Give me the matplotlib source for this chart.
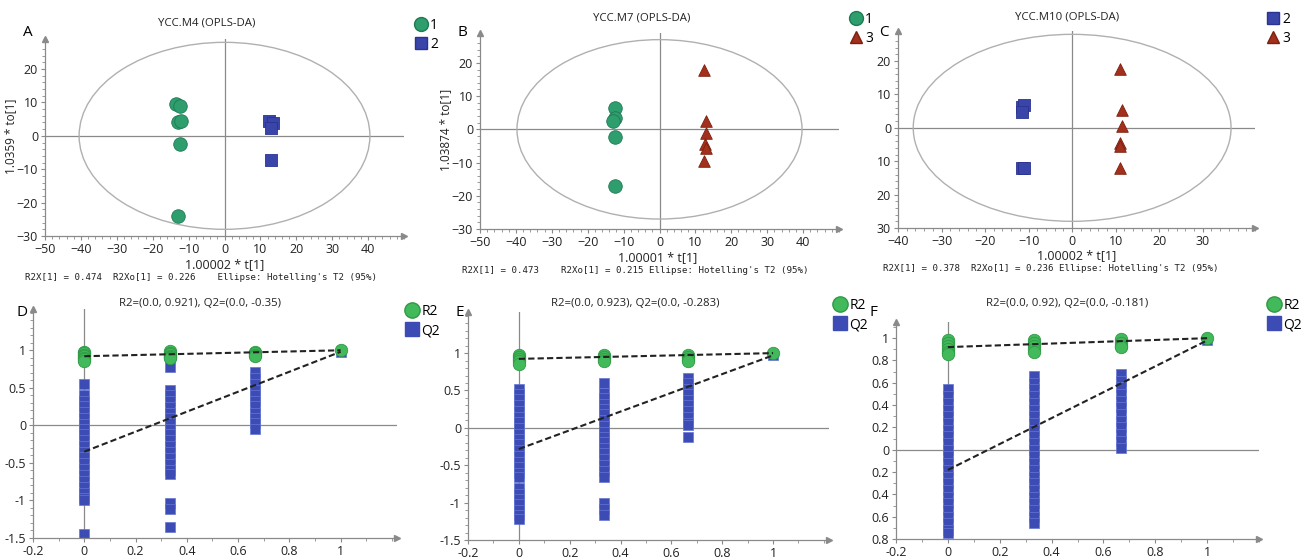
import numpy as np
import matplotlib
matplotlib.use("Agg")
import matplotlib.pyplot as plt
from matplotlib.patches import Ellipse
from matplotlib.lines import Line2D
from matplotlib.ticker import MultipleLocator, AutoMinorLocator, FuncFormatter

plt.rcParams['font.family'] = ['Open Sans', 'DejaVu Sans']

# ---- score plots (A, B, C) ----
a_g1_x = [-13.5, -12.5, -13.0, -12.0, -12.5, -13.0]
a_g1_y = [9.5, 9.0, 4.0, 4.5, -2.5, -24.0]
a_g2_x = [12.5, 13.5, 13.0, 13.0]
a_g2_y = [4.5, 3.8, 2.2, -7.3]

b_g1_x = [-12.5, -12.5, -13.0, -12.5, -12.5]
b_g1_y = [6.5, 3.5, 2.5, -2.2, -17.0]
b_g3_x = [12.5, 13.0, 13.0, 12.8, 13.0, 12.5]
b_g3_y = [18.0, 2.5, -1.0, -4.5, -5.5, -9.5]

c_g2_x = [-11.5, -11.0, -11.5, -11.5, -11.0]
c_g2_y = [6.2, 6.7, 4.8, -12.0, -12.0]
c_g3_x = [11.0, 11.5, 11.5, 11.0, 11.0, 11.0]
c_g3_y = [17.5, 5.3, 0.5, -4.5, -5.5, -12.0]

ellipse_a = [40.5, 39.7, 36.5]
ellipse_b = [28.0, 27.0, 28.0]

score_titles = ["YCC.M4 (OPLS-DA)", "YCC.M7 (OPLS-DA)", "YCC.M10 (OPLS-DA)"]
score_xlabels = ["1.00002 * t[1]", "1.00001 * t[1]", "1.00002 * t[1]"]
score_ylabels = ["1.0359 * to[1]", "1.03874 * to[1]", ""]
score_notes = ["R2X[1] = 0.474  R2Xo[1] = 0.226    Ellipse: Hotelling's T2 (95%)",
               "R2X[1] = 0.473    R2Xo[1] = 0.215 Ellipse: Hotelling's T2 (95%)",
               "R2X[1] = 0.378  R2Xo[1] = 0.236 Ellipse: Hotelling's T2 (95%)"]

# ---- permutation plots (D, E, F) ----
perm_x = [0.0, 0.333, 0.667, 1.0]

d_r2 = [[0.98, 0.96, 0.94, 0.92, 0.90, 0.88, 0.86],
        [0.99, 0.97, 0.95, 0.93, 0.91, 0.90],
        [0.98, 0.96, 0.94, 0.93],
        [1.0]]
d_q2 = [[0.55, 0.40, 0.33, 0.26, 0.18, 0.10, 0.02, -0.05, -0.12, -0.20, -0.28, -0.35,
         -0.42, -0.50, -0.58, -0.66, -0.74, -0.82, -0.90, -0.97, -1.00, -1.45],
        [0.78, 0.47, 0.40, 0.32, 0.25, 0.17, 0.10, 0.03, -0.05, -0.12, -0.20, -0.28,
         -0.36, -0.44, -0.52, -0.60, -0.65, -1.03, -1.12, -1.35],
        [0.71, 0.63, 0.55, 0.47, 0.40, 0.33, 0.26, 0.16, 0.10, 0.03, -0.05],
        [0.98]]
e_r2 = [[0.98, 0.95, 0.92, 0.89, 0.86],
        [0.98, 0.95, 0.92, 0.89],
        [0.98, 0.95, 0.92, 0.89],
        [1.0]]
e_q2 = [[0.52, 0.45, 0.38, 0.30, 0.22, 0.15, 0.08, 0.00, -0.08, -0.15, -0.22, -0.30,
         -0.38, -0.45, -0.52, -0.60, -0.66, -0.80, -0.88, -0.95, -1.02, -1.10, -1.16, -1.22],
        [0.60, 0.47, 0.40, 0.32, 0.25, 0.18, 0.10, 0.03, -0.05, -0.12, -0.19, -0.27,
         -0.34, -0.42, -0.50, -0.58, -0.66, -1.00, -1.08, -1.16],
        [0.67, 0.60, 0.52, 0.45, 0.37, 0.30, 0.22, 0.15, 0.07, 0.04, -0.12],
        [0.97]]
f_r2 = [[0.98, 0.96, 0.93, 0.90, 0.88, 0.86],
        [0.98, 0.96, 0.93, 0.90, 0.88],
        [0.99, 0.96, 0.93, 0.92],
        [1.0]]
f_q2 = [[0.54, 0.48, 0.42, 0.36, 0.30, 0.24, 0.18, 0.12, 0.06, 0.0, -0.06, -0.12,
         -0.18, -0.24, -0.30, -0.36, -0.42, -0.48, -0.54, -0.60, -0.66, -0.72, -0.75],
        [0.66, 0.60, 0.54, 0.48, 0.42, 0.36, 0.30, 0.24, 0.18, 0.12, 0.06, 0.0,
         -0.06, -0.12, -0.18, -0.24, -0.30, -0.36, -0.42, -0.48, -0.54, -0.60, -0.66],
        [0.68, 0.62, 0.56, 0.50, 0.44, 0.38, 0.32, 0.26, 0.20, 0.14, 0.08, 0.02],
        [0.98]]
r2_int = [0.921, 0.923, 0.92]
q2_int = [-0.35, -0.283, -0.181]

W, H = 1302, 560
GREEN, GREEN_E = '#2e9e6e', '#1f7a52'
BLUE, BLUE_E = '#3a45aa', '#2a3390'
RED, RED_E = '#a3301c', '#7a2010'
GREEN2, GREEN2_E = '#42b95a', '#2f9a45'
BLUE2, BLUE2_E = '#3c4cb4', '#6576d4'
AXC = '#8a8a8a'


def box(l, t, r, b):
    return [l / W, 1 - b / H, (r - l) / W, (b - t) / H]


def fx(x):
    return x / W


def fy(y):
    return 1 - y / H


def style_axes(ax):
    for s in ['top', 'right']:
        ax.spines[s].set_visible(False)
    for s in ['left', 'bottom']:
        ax.spines[s].set_color(AXC)
        ax.spines[s].set_linewidth(0.9)
    ax.tick_params(which='both', direction='out', color=AXC, labelsize=9,
                   labelcolor='#222222', pad=2)
    ax.tick_params(which='major', length=3)
    ax.tick_params(which='minor', length=2)
    ax.plot(1, 0, '>', color=AXC, ms=5, transform=ax.transAxes, clip_on=False)
    ax.plot(0, 1, '^', color=AXC, ms=5, transform=ax.transAxes, clip_on=False)
    ax.set_facecolor('none')


def add_legend(handles, left, top):
    fig.legend(handles=handles, loc='upper left',
               bbox_to_anchor=(fx(left), fy(top)),
               frameon=False, fontsize=10, handletextpad=0.3, labelspacing=0.3,
               handlelength=0.8, borderpad=0.0, borderaxespad=0.0)


fig = plt.figure(figsize=(W / 100, H / 100), dpi=100)

# ---- top row ----
score_boxes = [box(45, 39, 404, 236), box(480, 33, 839, 229), box(898, 31, 1255, 228)]
score_xlim = [(-50, 50), (-50, 50), (-40, 42)]
score_xticks = [range(-50, 41, 10), range(-50, 41, 10), range(-40, 31, 10)]
score_data = [
    [(a_g1_x, a_g1_y, 'o', GREEN, GREEN_E, '1'), (a_g2_x, a_g2_y, 's', BLUE, BLUE_E, '2')],
    [(b_g1_x, b_g1_y, 'o', GREEN, GREEN_E, '1'), (b_g3_x, b_g3_y, '^', RED, RED_E, '3')],
    [(c_g2_x, c_g2_y, 's', BLUE, BLUE_E, '2'), (c_g3_x, c_g3_y, '^', RED, RED_E, '3')],
]
letters_top = ['A', 'B', 'C']
letter_pos_top = [(28, 32), (462, 32), (884, 32)]
title_pos_top = [(207, 23), (642, 18), (1067, 17)]
legend_pos_top = [(415, 18), (850, 12), (1267, 12)]
xlabel_pos = [(225, 265), (658, 258), (1077, 256)]
note_pos = [(25, 277), (462, 270), (883, 268)]
ylabel_pos = [(11, 136), (446, 130)]
sizes = {'o': 95, 's': 70, '^': 70}

for i in range(3):
    ax = fig.add_axes(score_boxes[i])
    style_axes(ax)
    ax.set_xlim(*score_xlim[i])
    ax.set_ylim(-30, 29)
    ax.set_xticks(list(score_xticks[i]))
    ax.xaxis.set_minor_locator(AutoMinorLocator(5))
    ax.set_yticks([-30, -20, -10, 0, 10, 20])
    ax.yaxis.set_minor_locator(AutoMinorLocator(5))
    if i == 2:
        ax.yaxis.set_major_formatter(FuncFormatter(lambda v, p: '%d' % abs(v)))
    ax.axhline(0, color=AXC, lw=0.9, zorder=1)
    ax.axvline(0, color=AXC, lw=0.9, zorder=1)
    ax.add_patch(Ellipse((0, 0), 2 * ellipse_a[i], 2 * ellipse_b[i], fill=False,
                         edgecolor='#b0b0b0', lw=1.0, zorder=1))
    handles = []
    for xs, ys, mk, fc, ec, lab in score_data[i]:
        ax.scatter(xs, ys, marker=mk, s=sizes[mk], c=fc, edgecolors=ec,
                   linewidths=0.6, zorder=3)
        handles.append(Line2D([], [], marker=mk, ls='none', ms=10 if mk == 'o' else 8.5,
                              mfc=fc, mec=ec, label=lab))
    add_legend(handles, *legend_pos_top[i])
    fig.text(fx(letter_pos_top[i][0]), fy(letter_pos_top[i][1]), letters_top[i],
             fontsize=11, ha='center', va='center')
    fig.text(fx(title_pos_top[i][0]), fy(title_pos_top[i][1]), score_titles[i],
             fontsize=8.2, ha='center', va='center', color='#222222')
    fig.text(fx(xlabel_pos[i][0]), fy(xlabel_pos[i][1]), score_xlabels[i],
             fontsize=9, ha='center', va='center', color='#222222')
    fig.text(fx(note_pos[i][0]), fy(note_pos[i][1]), score_notes[i],
             fontsize=6.6, ha='left', va='center', family='DejaVu Sans Mono',
             color='#222222')
    if score_ylabels[i]:
        fig.text(fx(ylabel_pos[i][0]), fy(ylabel_pos[i][1]), score_ylabels[i],
                 fontsize=8.5, ha='center', va='center', rotation=90, color='#222222')

# ---- bottom row ----
perm_boxes = [box(33, 309, 397, 538), box(468, 312, 829, 540), box(896, 322, 1259, 539)]
perm_xlim = [(-0.2, 1.22), (-0.2, 1.22), (-0.2, 1.2)]
perm_ylim = [(-1.5, 1.55), (-1.5, 1.55), (-0.8, 1.145)]
perm_r2 = [d_r2, e_r2, f_r2]
perm_q2 = [d_q2, e_q2, f_q2]
letters_bot = ['D', 'E', 'F']
letter_pos_bot = [(22, 313), (460, 313), (873, 313)]
title_pos_bot = [(200, 303), (635, 303), (1067, 303)]
legend_pos_bot = [(406, 304), (834, 298), (1268, 298)]

for i in range(3):
    ax = fig.add_axes(perm_boxes[i])
    style_axes(ax)
    ax.set_xlim(*perm_xlim[i])
    ax.set_ylim(*perm_ylim[i])
    ax.set_xticks([-0.2, 0, 0.2, 0.4, 0.6, 0.8, 1])
    ax.xaxis.set_minor_locator(AutoMinorLocator(2))
    if i < 2:
        ax.set_yticks([-1.5, -1, -0.5, 0, 0.5, 1])
        ax.yaxis.set_minor_locator(AutoMinorLocator(5))
        ax.yaxis.set_major_formatter(FuncFormatter(lambda v, p: '%g' % v))
    else:
        ax.set_yticks([-0.8, -0.6, -0.4, -0.2, 0, 0.2, 0.4, 0.6, 0.8, 1])
        ax.yaxis.set_minor_locator(AutoMinorLocator(2))
        ax.yaxis.set_major_formatter(FuncFormatter(lambda v, p: '%g' % abs(round(v, 2))))
    ax.xaxis.set_major_formatter(FuncFormatter(lambda v, p: '%g' % round(v, 2)))
    ax.axhline(0, color=AXC, lw=0.9, zorder=1)
    ax.axvline(0, color=AXC, lw=0.9, zorder=1)

    for k, xv in enumerate(perm_x):
        ax.scatter([xv] * len(perm_q2[i][k]), perm_q2[i][k], marker='s', s=62,
                   c=BLUE2, edgecolors=BLUE2_E, linewidths=0.5, zorder=2)
    for k, xv in enumerate(perm_x):
        ax.scatter([xv] * len(perm_r2[i][k]), perm_r2[i][k], marker='o', s=80,
                   c=GREEN2, edgecolors=GREEN2_E, linewidths=0.6, zorder=3)
    ax.plot([0, 1], [r2_int[i], perm_r2[i][3][0]], color='#222222', lw=1.5,
            dashes=(3, 1.5), zorder=4)
    ax.plot([0, 1], [q2_int[i], perm_q2[i][3][0]], color='#222222', lw=1.5,
            dashes=(3, 1.5), zorder=4)

    handles = [Line2D([], [], marker='o', ls='none', ms=11, mfc=GREEN2, mec=GREEN2_E, label='R2'),
               Line2D([], [], marker='s', ls='none', ms=10, mfc=BLUE2, mec=BLUE2, label='Q2')]
    add_legend(handles, *legend_pos_bot[i])
    r2s = ('%.3f' % r2_int[i]).rstrip('0')
    q2s = ('%.3f' % q2_int[i]).rstrip('0')
    fig.text(fx(title_pos_bot[i][0]), fy(title_pos_bot[i][1]),
             'R2=(0.0, %s), Q2=(0.0, %s)' % (r2s, q2s),
             fontsize=8.2, ha='center', va='center', color='#222222')
    fig.text(fx(letter_pos_bot[i][0]), fy(letter_pos_bot[i][1]), letters_bot[i],
             fontsize=11, ha='center', va='center')

fig.savefig('out.png', dpi=100)
